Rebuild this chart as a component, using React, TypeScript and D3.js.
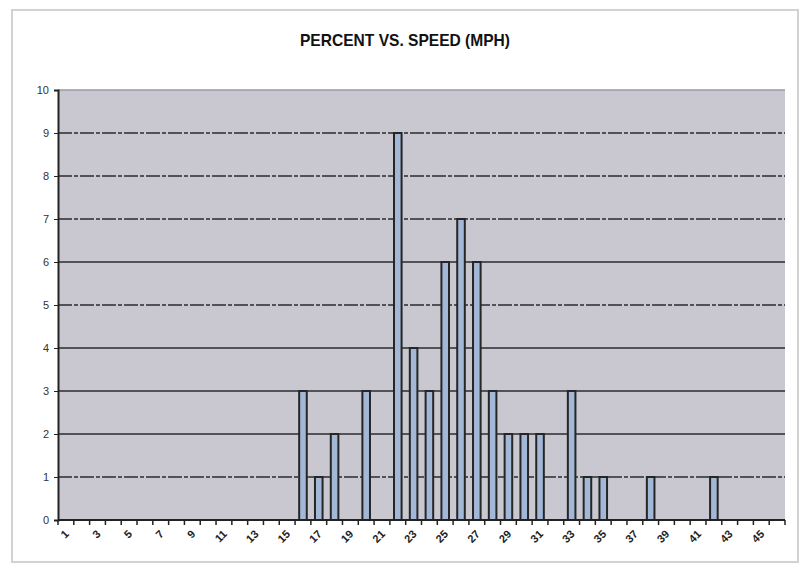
import React, { useEffect, useRef } from "react";
import * as d3 from "d3";

const title = "PERCENT VS. SPEED (MPH)";
const speeds: number[] = Array.from({ length: 46 }, (_, i) => i + 1);
const barSpeeds = [16, 17, 18, 20, 22, 23, 24, 25, 26, 27, 28, 29, 30, 31, 33, 34, 35, 38, 42];
const barPercents = [3, 1, 2, 3, 9, 4, 3, 6, 7, 6, 3, 2, 2, 2, 3, 1, 1, 1, 1];
const yTicks = [0, 1, 2, 3, 4, 5, 6, 7, 8, 9, 10];
const dashedGrid = [1, 5, 7, 8, 9];
const xLabelSpeeds = speeds.filter((s) => s % 2 === 1);

const W = 801;
const H = 565;
const M = { left: 58, right: 785, top: 90, bottom: 520 };

export default function App() {
  const ref = useRef<SVGSVGElement>(null);

  useEffect(() => {
    const svg = d3.select(ref.current);
    svg.selectAll("*").remove();

    const x = d3
      .scaleBand<number>()
      .domain(speeds)
      .range([M.left, M.right])
      .paddingInner(0.52)
      .paddingOuter(0.26);
    const step = x.step();
    const y = d3.scaleLinear().domain([0, 10]).range([M.bottom, M.top]);

    // outer border
    svg
      .append("rect")
      .attr("x", 12)
      .attr("y", 10)
      .attr("width", 786)
      .attr("height", 552)
      .attr("fill", "#ffffff")
      .attr("stroke", "#d2d2d2")
      .attr("stroke-width", 2);

    // title
    svg
      .append("text")
      .attr("x", 405)
      .attr("y", 46)
      .attr("text-anchor", "middle")
      .attr("font-family", "Liberation Sans, Arial, sans-serif")
      .attr("font-weight", "bold")
      .attr("font-size", 17)
      .attr("textLength", 210)
      .attr("lengthAdjust", "spacingAndGlyphs")
      .attr("fill", "#111")
      .text(title);

    // plot background
    svg
      .append("rect")
      .attr("x", M.left)
      .attr("y", M.top)
      .attr("width", M.right - M.left)
      .attr("height", M.bottom - M.top)
      .attr("fill", "#c9c8d0");

    // gridlines
    svg
      .append("g")
      .selectAll("line")
      .data(yTicks.filter((t) => t > 0))
      .join("line")
      .attr("x1", M.left)
      .attr("x2", M.right)
      .attr("y1", (d) => y(d))
      .attr("y2", (d) => y(d))
      .attr("stroke", (d) => (d === 10 ? "#9a9aa0" : "#2b2b2b"))
      .attr("stroke-dasharray", (d) => (dashedGrid.includes(d) ? "14,2,4,2" : null))
      .attr("stroke-width", 1.5);

    // bars
    const data = barSpeeds.map((s, i) => ({ s, v: barPercents[i] }));
    svg
      .append("g")
      .selectAll("rect")
      .data(data)
      .join("rect")
      .attr("x", (d) => x(d.s)!)
      .attr("y", (d) => y(d.v))
      .attr("width", x.bandwidth())
      .attr("height", (d) => y(0) - y(d.v))
      .attr("fill", "#a3b7d6")
      .attr("stroke", "#262626")
      .attr("stroke-width", 2);

    // y axis
    const yAxis = svg
      .append("g")
      .attr("transform", `translate(${M.left},0)`)
      .call(d3.axisLeft(y).tickValues(yTicks).tickSize(4).tickPadding(5).tickFormat(d3.format("d")));
    yAxis.select(".domain").attr("stroke", "#222").attr("stroke-width", 2);
    yAxis.selectAll(".tick line").attr("stroke", "#222");
    yAxis
      .selectAll(".tick text")
      .attr("font-family", "Liberation Sans, Arial, sans-serif")
      .attr("font-size", 11)
      .attr("fill", "#333");

    // x axis line
    svg
      .append("line")
      .attr("x1", M.left)
      .attr("x2", M.right)
      .attr("y1", M.bottom)
      .attr("y2", M.bottom)
      .attr("stroke", "#222")
      .attr("stroke-width", 2);

    // x ticks at category boundaries
    const boundaries = [...speeds.map((s) => x(s)! - (step - x.bandwidth()) / 2), M.right];
    svg
      .append("g")
      .selectAll("line")
      .data(boundaries)
      .join("line")
      .attr("x1", (d) => d)
      .attr("x2", (d) => d)
      .attr("y1", M.bottom)
      .attr("y2", M.bottom + 5)
      .attr("stroke", "#222")
      .attr("stroke-width", 1.5);

    // x labels
    svg
      .append("g")
      .selectAll("text")
      .data(xLabelSpeeds)
      .join("text")
      .attr("transform", (d) => `translate(${x(d)! + x.bandwidth() / 2 + 1},${M.bottom + 12}) rotate(-45)`)
      .attr("text-anchor", "end")
      .attr("dy", "0.35em")
      .attr("font-family", "Liberation Sans, Arial, sans-serif")
      .attr("font-weight", "bold")
      .attr("font-size", 11)
      .attr("fill", "#222")
      .text((d) => String(d));
  }, []);

  return (
    <svg
      ref={ref}
      width={W}
      height={H}
      style={{ position: "absolute", left: 0, top: 0, background: "#fff" }}
    />
  );
}
